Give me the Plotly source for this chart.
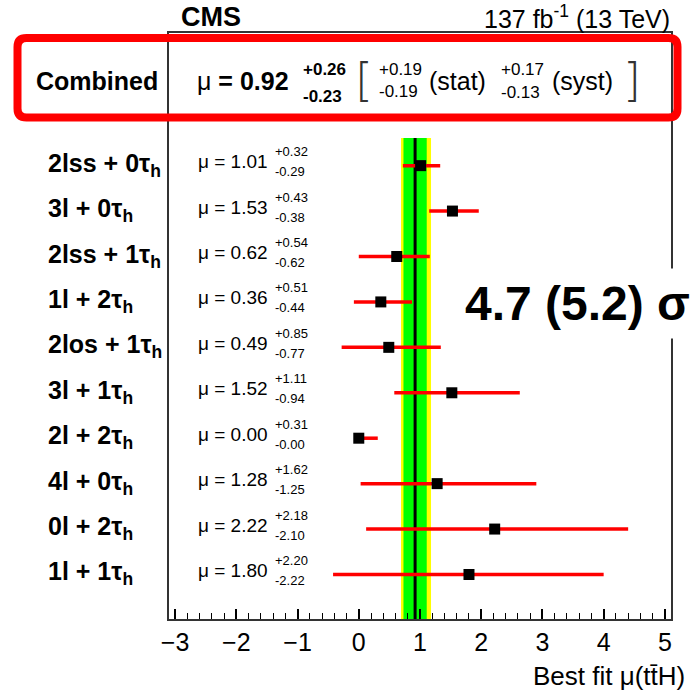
import plotly.graph_objects as go

# ---------------- data ----------------
channels = ["2lss + 0τ<sub>h</sub>", "3l + 0τ<sub>h</sub>", "2lss + 1τ<sub>h</sub>",
            "1l + 2τ<sub>h</sub>", "2los + 1τ<sub>h</sub>", "3l + 1τ<sub>h</sub>",
            "2l + 2τ<sub>h</sub>", "4l + 0τ<sub>h</sub>", "0l + 2τ<sub>h</sub>",
            "1l + 1τ<sub>h</sub>"]
mu_vals = [1.01, 1.53, 0.62, 0.36, 0.49, 1.52, 0.00, 1.28, 2.22, 1.80]
err_up = [0.32, 0.43, 0.54, 0.51, 0.85, 1.11, 0.31, 1.62, 2.18, 2.20]
err_dn = [0.29, 0.38, 0.62, 0.44, 0.77, 0.94, 0.00, 1.25, 2.10, 2.22]

comb_mu = 0.92
comb_up, comb_dn = 0.26, 0.23
stat_up, stat_dn = 0.19, 0.19
syst_up, syst_dn = 0.17, 0.13

x_ticks = [-3, -2, -1, 0, 1, 2, 3, 4, 5]
significance = "4.7 (5.2) σ"

# ---------------- layout geometry (pixels) ----------------
W = H = 692
L, R, T, B = 169, 671, 33, 619
FONT = "Liberation Sans, Arial, Helvetica, sans-serif"


def px(xp):
    return (xp - L) / (R - L)


def py(yp):
    return (B - yp) / (B - T)


rows = list(range(len(channels)))
y_top, y_bot = -2.92, 9.98
band_top = -0.61

fig = go.Figure()

# band (total & stat) and central line
shapes = [
    dict(type="rect", xref="x", yref="y", x0=comb_mu - comb_dn, x1=comb_mu + comb_up,
         y0=band_top, y1=y_bot, fillcolor="#ffff00", line_width=0, layer="below"),
    dict(type="rect", xref="x", yref="y", x0=comb_mu - stat_dn, x1=comb_mu + stat_up,
         y0=band_top, y1=y_bot, fillcolor="#00ff00", line_width=0, layer="below"),
    dict(type="line", xref="x", yref="y", x0=comb_mu, x1=comb_mu,
         y0=band_top, y1=y_bot, line=dict(color="black", width=3), layer="below"),
]

fig.add_trace(go.Scatter(
    x=mu_vals, y=rows, mode="markers",
    marker=dict(symbol="square", size=11, color="black"),
    error_x=dict(type="data", symmetric=False, array=err_up, arrayminus=err_dn,
                 color="#ff0000", thickness=3.5, width=0),
    showlegend=False, hoverinfo="skip",
))

ann = []

# channel labels + values
for i, (lab, m, u, d) in enumerate(zip(channels, mu_vals, err_up, err_dn)):
    ann.append(dict(x=px(46), xref="paper", y=i, yref="y", text=f"<b>{lab}</b>",
                    xanchor="left", yanchor="middle", showarrow=False, yshift=1,
                    font=dict(family=FONT, size=25, color="black")))
    ann.append(dict(x=px(196), xref="paper", y=i, yref="y", text=f"μ = {m:.2f}",
                    xanchor="left", yanchor="middle", showarrow=False, yshift=4,
                    font=dict(family=FONT, size=19, color="black")))
    ann.append(dict(x=px(273), xref="paper", y=i, yref="y", text=f"+{u:.2f}",
                    xanchor="left", yanchor="middle", showarrow=False, yshift=14,
                    font=dict(family=FONT, size=13, color="black")))
    ann.append(dict(x=px(273), xref="paper", y=i, yref="y", text=f"-{d:.2f}",
                    xanchor="left", yanchor="middle", showarrow=False, yshift=-6,
                    font=dict(family=FONT, size=13, color="black")))


def txt(xp, yp, text, size, anchor="left", bold=False, **kw):
    if bold:
        text = f"<b>{text}</b>"
    d = dict(x=px(xp), xref="paper", y=py(yp), yref="paper", text=text,
             xanchor=anchor, yanchor="middle", showarrow=False,
             font=dict(family=FONT, size=size, color="black"))
    d.update(kw)
    ann.append(d)


# header
txt(179, 17, "CMS", 27, bold=True)
txt(R + 1, 17, "137 fb<sup>-1</sup> (13 TeV)", 25, anchor="right")

# combined row
txt(97, 81, "Combined", 25, anchor="center", bold=True)
txt(195, 81, f"μ <b>= {comb_mu:.2f}</b>", 25)
txt(301, 69, f"+{comb_up:.2f}", 17, bold=True)
txt(301, 96, f"-{comb_dn:.2f}", 17, bold=True)
txt(353, 80, "[", 46, font=dict(family="DejaVu Sans", size=46, color="#333", weight=200))
txt(377, 69, f"+{stat_up:.2f}", 17)
txt(377, 91, f"-{stat_dn:.2f}", 17)
txt(427, 81, "(stat)", 25)
txt(499, 69, f"+{syst_up:.2f}", 17)
txt(499, 93, f"-{syst_dn:.2f}", 17)
txt(550, 81, "(syst)", 25)
txt(621, 80, "]", 46, font=dict(family="DejaVu Sans", size=46, color="#333", weight=200))

# significance
txt(577, 303, significance, 48, anchor="center", bold=True, bgcolor="white", borderpad=8)

# x axis title
txt(687, 676, "Best fit μ(tt\u0304H)", 26, anchor="right")

# red highlight box (rounded)
x0, x1, y0, y1, r = px(17.5), px(677.5), py(38), py(117.5), 9
rx, ry = r / (R - L), r / (B - T)
path = (f"M {x0 + rx},{y0} L {x1 - rx},{y0} Q {x1},{y0} {x1},{y0 - ry} "
        f"L {x1},{y1 + ry} Q {x1},{y1} {x1 - rx},{y1} L {x0 + rx},{y1} "
        f"Q {x0},{y1} {x0},{y1 + ry} L {x0},{y0 - ry} Q {x0},{y0} {x0 + rx},{y0} Z")
shapes.append(dict(type="path", xref="paper", yref="paper", path=path,
                   line=dict(color="#ff0000", width=8), fillcolor="rgba(0,0,0,0)",
                   layer="above"))

fig.update_layout(
    width=W, height=H,
    margin=dict(l=L, r=W - R, t=T, b=H - B, pad=0),
    paper_bgcolor="white", plot_bgcolor="white",
    shapes=shapes, annotations=ann,
    font=dict(family=FONT, color="black"),
    xaxis=dict(range=[-3.1, 5.1], tickvals=x_ticks, ticks="inside", ticklen=10,
               tickwidth=1.5, tickcolor="black", showgrid=False, zeroline=False,
               showline=True, mirror=True, linecolor="#333", linewidth=1.5,
               tickfont=dict(family=FONT, size=25, color="black"),
               minor=dict(dtick=0.2, tick0=0, ticks="inside", ticklen=6,
                          tickwidth=1.2, tickcolor="black", showgrid=False)),
    yaxis=dict(range=[y_bot, y_top], showticklabels=False, ticks="", showgrid=False,
               zeroline=False, showline=True, mirror=True, linecolor="#333",
               linewidth=1.5),
)

fig.write_html("out.html")
